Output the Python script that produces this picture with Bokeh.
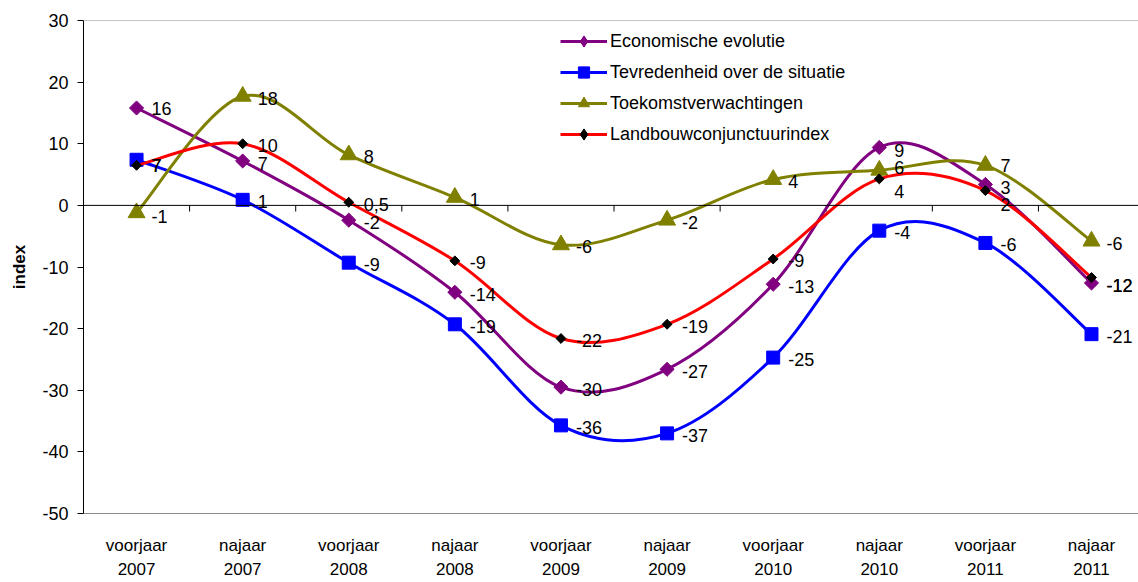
import numpy as np
from bokeh.plotting import figure
from bokeh.models import ColumnDataSource, Legend, LegendItem, Span, FixedTicker, Range1d
from bokeh.core.properties import value
from bokeh.embed import file_html
from bokeh.resources import INLINE

# ---- data ----
seizoenen = ["voorjaar", "najaar", "voorjaar", "najaar", "voorjaar",
             "najaar", "voorjaar", "najaar", "voorjaar", "najaar"]
jaren = ["2007", "2007", "2008", "2008", "2009", "2009", "2010", "2010", "2011", "2011"]

economische_evolutie = [15.8, 7.2, -2.4, -14.1, -29.5, -26.6, -12.8, 9.4, 3.4, -12.6]
tevredenheid = [7.4, 0.9, -9.3, -19.3, -35.7, -37.0, -24.7, -4.1, -6.1, -20.9]
toekomstverwachtingen = [-1.2, 17.7, 8.2, 1.3, -6.4, -2.4, 4.2, 5.7, 6.5, -5.8]
landbouwconjunctuur = [6.5, 10.0, 0.5, -9.0, -21.6, -19.3, -8.7, 4.3, 2.4, -11.7]

lab_econ = ["16", "7", "-2", "-14", "-30", "-27", "-13", "9", "3", "-12"]
lab_tevr = ["7", "1", "-9", "-19", "-36", "-37", "-25", "-4", "-6", "-21"]
lab_toek = ["-1", "18", "8", "1", "-6", "-2", "4", "6", "7", "-6"]
lab_land = ["7", "10", "0,5", "-9", "-22", "-19", "-9", "4", "2", "-12"]

y_ticks = [-50, -40, -30, -20, -10, 0, 10, 20, 30]
y_tick_labels = [str(v) for v in y_ticks]

# label vertical nudges (screen px) – styling only
nudge_econ = [0, 2, 2, 2, 2, 2, 2, 3, 3, 2]
nudge_tevr = [6, 2, 2, 2, 2, 2, 2, 2, 2, 2]
nudge_toek = [4, 2, 2, 2, 2, 2, 2, -3, 0, 2]
nudge_land = [0, 2, 2, 2, 2, 2, 2, 13, 14, 7.6]

FONT = "Liberation Sans"
n = len(jaren)
xs = list(range(n))

p = figure(width=1138, height=582, x_range=Range1d(-0.5, 9.443), y_range=Range1d(-50, 30),
           output_backend="svg", toolbar_location=None,
           min_border_left=83, min_border_right=0, min_border_top=20, min_border_bottom=66)
p.outline_line_color = None
p.xgrid.grid_line_color = None
p.ygrid.grid_line_color = None
p.background_fill_color = "white"
p.border_fill_color = "white"

# y axis
p.yaxis.ticker = FixedTicker(ticks=y_ticks)
p.yaxis.major_label_overrides = dict(zip(y_ticks, y_tick_labels))
p.yaxis.axis_line_color = "black"
p.yaxis.major_tick_line_color = "black"
p.yaxis.major_tick_out = 6
p.yaxis.major_tick_in = 0
p.yaxis.minor_tick_line_color = None
p.yaxis.major_label_standoff = 9
p.yaxis.major_label_text_font = FONT
p.yaxis.major_label_text_font_size = "18px"
p.yaxis.major_label_text_color = "black"
p.yaxis.axis_label = "index"
p.yaxis.axis_label_text_font = FONT
p.yaxis.axis_label_text_font_style = "bold"
p.yaxis.axis_label_text_font_size = "17px"
p.yaxis.axis_label_text_color = "black"
p.yaxis.axis_label_standoff = 10

# x axis (labels at bottom)
p.xaxis.ticker = FixedTicker(ticks=xs)
p.xaxis.major_label_overrides = {i: f"{s}\n{j}" for i, (s, j) in enumerate(zip(seizoenen, jaren))}
p.xaxis.axis_line_color = "#8c8c8c"
p.xaxis.major_tick_line_color = None
p.xaxis.minor_tick_line_color = None
p.xaxis.major_tick_out = 0
p.xaxis.major_tick_in = 0
p.xaxis.major_label_standoff = 22
p.xaxis.major_label_text_font = FONT
p.xaxis.major_label_text_font_size = "17px"
p.xaxis.major_label_text_line_height = 1.3
p.xaxis.major_label_text_color = "black"

# top border and zero line
p.add_layout(Span(location=30, dimension="width", line_color="#8c8c8c", line_width=1))
p.add_layout(Span(location=0, dimension="width", line_color="black", line_width=1))
# category boundary ticks on zero line
bounds = [i + 0.5 for i in range(n - 1)]
p.segment(x0=bounds, y0=[0] * len(bounds), x1=bounds, y1=[-1.0] * len(bounds),
          line_color="black", line_width=1)


def smooth(x, y):
    x = np.asarray(x, float)
    y = np.asarray(y, float)
    xp = np.concatenate([[x[0]], x, [x[-1]]])
    yp = np.concatenate([[y[0]], y, [y[-1]]])
    m = len(x)
    cx0 = xp[1:m] + (xp[2:m + 1] - xp[0:m - 1]) / 6
    cy0 = yp[1:m] + (yp[2:m + 1] - yp[0:m - 1]) / 6
    cx1 = xp[2:m + 1] - (xp[3:m + 2] - xp[1:m]) / 6
    cy1 = yp[2:m + 1] - (yp[3:m + 2] - yp[1:m]) / 6
    return dict(x0=x[:-1], y0=y[:-1], x1=x[1:], y1=y[1:], cx0=cx0, cy0=cy0, cx1=cx1, cy1=cy1)


series = [
    ("Economische evolutie", economische_evolutie, lab_econ, nudge_econ, "#800080",
     dict(marker="square", angle=np.pi / 4, size=10, fill_color="#800080", line_color="#800080"),
     dict(marker="diamond", size=15, fill_color="#800080", line_color="#800080")),
    ("Tevredenheid over de situatie", tevredenheid, lab_tevr, nudge_tevr, "#0000FF",
     dict(marker="square", size=13, fill_color="#0000FF", line_color="#0000FF"),
     dict(marker="square", size=10, fill_color="#0000FF", line_color="#0000FF")),
    ("Toekomstverwachtingen", toekomstverwachtingen, lab_toek, nudge_toek, "#808000",
     dict(marker="triangle", size=17, fill_color="#808000", line_color="#808000"),
     dict(marker="triangle", size=13, fill_color="#808000", line_color="#808000")),
    ("Landbouwconjunctuurindex", landbouwconjunctuur, lab_land, nudge_land, "#FF0000",
     dict(marker="square", angle=np.pi / 4, size=7, fill_color="black", line_color="black"),
     dict(marker="diamond", size=10, fill_color="black", line_color="black")),
]

items = []
for name, vals, labs, nud, col, mk, lmk in series:
    bz = p.bezier(source=ColumnDataSource(smooth(xs, vals)), x0="x0", y0="y0", x1="x1", y1="y1",
                  cx0="cx0", cy0="cy0", cx1="cx1", cy1="cy1", line_color=col, line_width=3)
    p.scatter(x=xs, y=vals, **mk)
    # legend-only marker: a single non-drawable (NaN) point
    lg = p.scatter(x=[np.nan], y=[np.nan], **lmk)
    items.append(LegendItem(label=name, renderers=[bz, lg], index=0))

for name, vals, labs, nud, col, mk, lmk in series:
    p.text(x=xs, y=vals, text=labs, x_offset=15, y_offset=nud,
           text_font=value(FONT), text_font_size="18px", text_color="black",
           text_baseline="middle", text_align="left")

legend = Legend(items=items, location=(477, 365), orientation="vertical",
                label_text_font=FONT, label_text_font_size="18px", label_text_color="black",
                glyph_width=47, glyph_height=28, label_height=28, label_standoff=3,
                spacing=3, padding=0, margin=0,
                background_fill_alpha=0, border_line_color=None)
p.add_layout(legend)

open("out.html", "w").write(file_html(p, INLINE))
